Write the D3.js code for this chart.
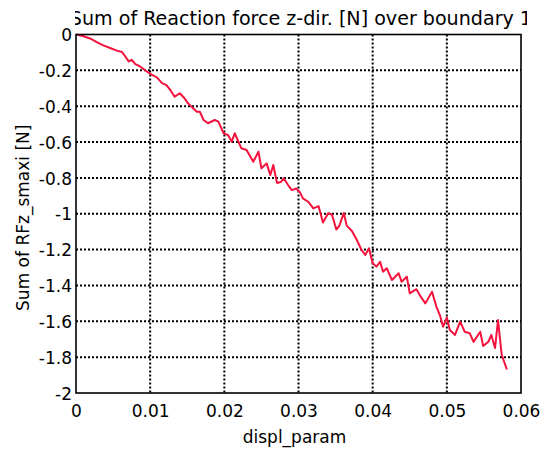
<!DOCTYPE html>
<html><head><meta charset="utf-8">
<script src="https://cdn.jsdelivr.net/npm/d3@7"></script>
<style>html,body{margin:0;padding:0;background:#fff;}svg{display:block;}</style>
</head><body>
<script>
const titleText = "Sum of Reaction force z-dir. [N] over boundary 12";
const xLabel = "displ_param";
const yLabel = "Sum of RFz_smaxi [N]";
const xTicks = [0, 0.01, 0.02, 0.03, 0.04, 0.05, 0.06];
const xTickLabels = ["0", "0.01", "0.02", "0.03", "0.04", "0.05", "0.06"];
const yTicks = [0, -0.2, -0.4, -0.6, -0.8, -1, -1.2, -1.4, -1.6, -1.8, -2];
const yTickLabels = ["0", "-0.2", "-0.4", "-0.6", "-0.8", "-1", "-1.2", "-1.4", "-1.6", "-1.8", "-2"];
const displ = [0,0.0009,0.0019,0.0028,0.0036,0.0046,0.0055,0.0062,0.0066,0.0071,0.0075,0.0080,0.0086,0.0095,0.0102,0.0109,0.0116,0.0122,0.0128,0.0133,0.0140,0.0146,0.0151,0.0158,0.0163,0.0167,0.0172,0.0178,0.0187,0.0192,0.0199,0.0205,0.0210,0.0214,0.0223,0.0230,0.0239,0.0246,0.0250,0.0257,0.0262,0.0266,0.0271,0.0276,0.0280,0.0286,0.0291,0.0297,0.0302,0.0306,0.0313,0.0320,0.0327,0.0333,0.0340,0.0345,0.0351,0.0355,0.0361,0.0365,0.0372,0.0378,0.0385,0.0390,0.0395,0.0400,0.0405,0.0410,0.0414,0.0419,0.0426,0.0435,0.0439,0.0446,0.0450,0.0459,0.0465,0.0471,0.0480,0.0486,0.0491,0.0495,0.0500,0.0504,0.0511,0.0518,0.0524,0.0531,0.0536,0.0545,0.0549,0.0556,0.0560,0.0565,0.0569,0.0574,0.0581];
const rfz = [0,-0.008,-0.022,-0.042,-0.059,-0.075,-0.090,-0.098,-0.120,-0.150,-0.141,-0.165,-0.177,-0.205,-0.224,-0.239,-0.271,-0.282,-0.315,-0.347,-0.328,-0.354,-0.384,-0.412,-0.431,-0.431,-0.477,-0.495,-0.477,-0.486,-0.551,-0.561,-0.598,-0.551,-0.635,-0.644,-0.710,-0.654,-0.746,-0.719,-0.784,-0.728,-0.828,-0.823,-0.802,-0.840,-0.868,-0.859,-0.881,-0.914,-0.933,-0.970,-0.957,-1.049,-0.997,-1.004,-1.088,-1.068,-0.996,-1.066,-1.096,-1.141,-1.202,-1.230,-1.193,-1.276,-1.295,-1.268,-1.323,-1.304,-1.370,-1.332,-1.379,-1.351,-1.444,-1.421,-1.464,-1.500,-1.435,-1.519,-1.570,-1.630,-1.579,-1.649,-1.676,-1.602,-1.658,-1.667,-1.715,-1.658,-1.738,-1.714,-1.676,-1.749,-1.593,-1.788,-1.869];

const W = 542, H = 449;
const m = {left: 76, right: 21, top: 34.5, bottom: 56};
const svg = d3.select("body").append("svg").attr("width", W).attr("height", H)
  .style("font-family", "'DejaVu Sans', Verdana, sans-serif");

const x = d3.scaleLinear().domain([0, 0.06]).range([m.left, W - m.right]);
const y = d3.scaleLinear().domain([-2, 0]).range([H - m.bottom, m.top]);

// grid
const grid = svg.append("g").attr("stroke", "#000").attr("stroke-width", 2).attr("stroke-dasharray", "2,2");
grid.selectAll("line.v").data(xTicks.slice(1, -1)).enter().append("line")
  .attr("x1", d => x(d)).attr("x2", d => x(d)).attr("y1", y(0)).attr("y2", y(-2));
grid.selectAll("line.h").data(yTicks.slice(1, -1)).enter().append("line")
  .attr("x1", x(0)).attr("x2", x(0.06)).attr("y1", d => y(d)).attr("y2", d => y(d));

// data line
svg.append("defs").append("clipPath").attr("id", "plotclip").append("rect")
  .attr("x", x(0)).attr("y", y(0) - 2).attr("width", x(0.06) - x(0)).attr("height", y(-2) - y(0) + 4);
const line = d3.line().x((d, i) => x(displ[i])).y(d => y(d));
svg.append("path").datum(rfz).attr("d", line).attr("fill", "none")
  .attr("stroke", "#f5123c").attr("stroke-width", 2).attr("stroke-linejoin", "round")
  .attr("clip-path", "url(#plotclip)");

// frame
svg.append("rect").attr("x", x(0)).attr("y", y(0)).attr("width", x(0.06) - x(0)).attr("height", y(-2) - y(0))
  .attr("fill", "none").attr("stroke", "#000").attr("stroke-width", 1.6);

// axes labels via d3 axes (no tick lines drawn)
const xAxis = d3.axisBottom(x).tickValues(xTicks).tickFormat((d, i) => xTickLabels[i]).tickSize(0).tickPadding(0);
const gx = svg.append("g").attr("transform", `translate(0,${y(-2)})`).call(xAxis);
gx.select(".domain").remove();
gx.selectAll("text").attr("font-size", 17).attr("font-family", "'DejaVu Sans', Verdana, sans-serif")
  .attr("fill", "#000").attr("dy", null).attr("y", 24);

const yAxis = d3.axisLeft(y).tickValues(yTicks).tickFormat((d, i) => yTickLabels[i]).tickSize(0).tickPadding(4);
const gy = svg.append("g").attr("transform", `translate(${x(0)},0)`).call(yAxis);
gy.select(".domain").remove();
gy.selectAll("text").attr("font-size", 17).attr("font-family", "'DejaVu Sans', Verdana, sans-serif")
  .attr("fill", "#000").attr("dy", "0.36em");

// axis titles
svg.append("text").attr("x", (x(0) + x(0.06)) / 2 - 4).attr("y", 443).attr("text-anchor", "middle")
  .attr("font-size", 17).text(xLabel);
svg.append("text").attr("transform", `translate(29,${(y(0) + y(-2)) / 2 + 4}) rotate(-90)`)
  .attr("text-anchor", "middle").attr("font-size", 17).text(yLabel);

// title, clipped as in the reference
svg.select("defs").append("clipPath").attr("id", "titleclip").append("rect")
  .attr("x", 75).attr("y", 0).attr("width", 452).attr("height", 34);
svg.append("text").attr("x", 307).attr("y", 25).attr("text-anchor", "middle")
  .attr("font-size", 19.1).attr("clip-path", "url(#titleclip)").text(titleText);
</script>
</body></html>
